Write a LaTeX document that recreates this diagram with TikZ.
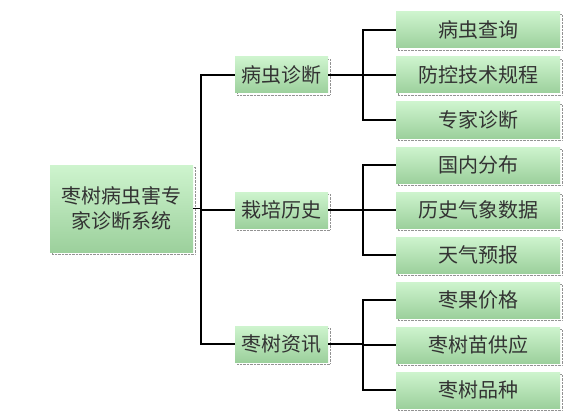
\documentclass[tikz,border=0pt]{standalone}
\usepackage{fontspec}
\setmainfont{Noto Sans CJK SC}
\usetikzlibrary{shadows}

\definecolor{boxtop}{RGB}{206,244,206}
\definecolor{boxbot}{RGB}{156,208,156}

\begin{document}
\begin{tikzpicture}[x=1pt,y=-1pt,
    box/.style={top color=boxtop, bottom color=boxbot, inner sep=0pt,
        minimum height=36pt, text=black!80, font=\fontsize{20}{25}\selectfont,
        drop shadow={shadow xshift=2pt, shadow yshift=-2pt, fill=none,
            draw=black!85, densely dotted}},
    link/.style={line width=1.6pt, black}]
    \useasboundingbox (0,0) rectangle (584,420);

    \coordinate (trunk) at (201,0);
    \coordinate (fork) at (363,0);

    % root
    \node [box, minimum width=143pt, minimum height=87pt, align=center] (sys)
        at (121.5,208.5) {枣树病虫害专\\家诊断系统};

    % middle level
    \node [box, minimum width=93pt] (bc) at (281.5,75) {病虫诊断};
    \node [box, minimum width=93pt] (zp) at (281.5,210) {栽培历史};
    \node [box, minimum width=93pt] (zs) at (281.5,344) {枣树资讯};

    % leaves
    \node [box, minimum width=164pt] (bc1) at (478,30) {病虫查询};
    \node [box, minimum width=164pt] (bc2) at (478,75) {防控技术规程};
    \node [box, minimum width=164pt] (bc3) at (478,120) {专家诊断};

    \node [box, minimum width=164pt] (zp1) at (478,165) {国内分布};
    \node [box, minimum width=164pt] (zp2) at (478,210) {历史气象数据};
    \node [box, minimum width=164pt] (zp3) at (478,255) {天气预报};

    \node [box, minimum width=164pt] (zs1) at (478,300) {枣果价格};
    \node [box, minimum width=164pt] (zs2) at (478,345) {枣树苗供应};
    \node [box, minimum width=164pt] (zs3) at (478,390) {枣树品种};

    % root to middle
    \draw [link] (sys.east) -- (sys.east -| trunk);
    \draw [link] (bc.west) -- (bc.west -| trunk) -- (zs.west -| trunk) -- (zs.west);
    \draw [link] (zp.west) -- (zp.west -| trunk);

    % middle to leaves
    \draw [link] (bc.east) -- (bc.east -| fork);
    \draw [link] (bc1.west) -- (bc1.west -| fork) -- (bc3.west -| fork) -- (bc3.west);
    \draw [link] (bc2.west) -- (bc2.west -| fork);

    \draw [link] (zp.east) -- (zp.east -| fork);
    \draw [link] (zp1.west) -- (zp1.west -| fork) -- (zp3.west -| fork) -- (zp3.west);
    \draw [link] (zp2.west) -- (zp2.west -| fork);

    \draw [link] (zs.east) -- (zs.east -| fork);
    \draw [link] (zs1.west) -- (zs1.west -| fork) -- (zs3.west -| fork) -- (zs3.west);
    \draw [link] (zs2.west) -- (zs2.west -| fork);
\end{tikzpicture}
\end{document}
